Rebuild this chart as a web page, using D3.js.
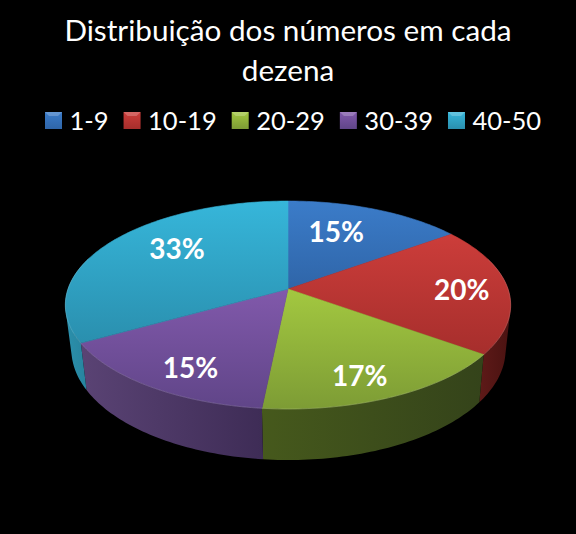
<!DOCTYPE html>
<html lang="pt">
<head>
    <meta charset="UTF-8">
    <title>Distribuição dos números em cada dezena</title>
    <script src="https://d3js.org/d3.v7.min.js"></script>
    <style>
        html, body { margin: 0; padding: 0; background: #000; }
        svg { display: block; }
        text { font-family: Lato, "Open Sans", sans-serif; fill: #fff; }
        .title { font-size: 29.7px; text-anchor: middle; }
        .legend-label { font-size: 25.5px; dominant-baseline: central; }
        .pct { font-size: 28px; font-weight: 700; text-anchor: middle; dominant-baseline: central; }
    </style>
</head>
<body>
<svg width="576" height="534"></svg>
<script>
const titleLines = ["Distribuição dos números em cada", "dezena"];
const categories = ["1-9", "10-19", "20-29", "30-39", "40-50"];
const values = [15, 20, 16.6, 15.2, 33.2];

// top colour, bottom colour of each slice face
const faceTop = ["#3b7cc9", "#cc3d3a", "#a3c840", "#8159ab", "#36b6da"];
const faceBottom = ["#2f65a8", "#a62e2c", "#7d9c35", "#604588", "#2a8fae"];
// left colour, right colour of each side wall
const wallLeft = ["#1d3f69", "#5e1a18", "#46591c", "#5a4374", "#2b90ac"];
const wallRight = ["#1d3f69", "#4a1211", "#34431a", "#3e2c56", "#26809a"];

// radius factor and angle shift (degrees) of each percent label
const labelRadius = [0.67, 0.79, 0.80, 0.79, 0.69];
const labelShift = [-6, 0, 3, -3, 8.5];

const svg = d3.select("svg");
const defs = svg.append("defs");

// Pie seen in perspective: k squeezes the far side, the near side gets bigger
const k = 0.154;
const top3d = {cx: 288, cy: 289, rx: 220, ry: 101.5};
const bottom3d = {cx: 288.5, cy: 332.7, rx: 214.5, ry: 107.7};

function project(face, angle, r = 1) {
    const u = r * Math.sin(angle);
    const v = -r * Math.cos(angle);
    const w = 1 - k * v;
    return [face.cx + face.rx * u / w, face.cy + face.ry * v / w];
}

function arcPoints(face, a0, a1) {
    const n = Math.max(2, Math.ceil((a1 - a0) / 0.02));
    return d3.range(n + 1).map(i => project(face, a0 + (a1 - a0) * i / n));
}

function gradient(id, horizontal, c0, c1) {
    const g = defs.append("linearGradient").attr("id", id)
        .attr("x1", 0).attr("y1", 0)
        .attr("x2", horizontal ? 1 : 0).attr("y2", horizontal ? 0 : 1);
    g.append("stop").attr("offset", "0%").attr("stop-color", c0);
    g.append("stop").attr("offset", "100%").attr("stop-color", c1);
}

categories.forEach((c, i) => {
    gradient("face" + i, false, faceTop[i], faceBottom[i]);
    gradient("wall" + i, true, wallLeft[i], wallRight[i]);
});

const pie = d3.pie().sort(null).value(d => d);
const slices = pie(values);
const line = d3.line();
const pct = d3.format(".0f");

// Title
svg.selectAll(".title")
    .data(titleLines)
  .enter().append("text")
    .attr("class", "title")
    .attr("x", 288)
    .attr("y", (d, i) => 41 + i * 40)
    .text(d => d);

// Legend
const legend = svg.selectAll(".legend")
    .data(categories)
  .enter().append("g")
    .attr("class", "legend");

legend.append("rect")
    .attr("width", 17)
    .attr("height", 17)
    .attr("y", 112)
    .attr("fill", (d, i) => "url(#face" + i + ")");

legend.append("path")
    .attr("d", "M0,112h17l-4,4h-9z")
    .attr("fill", "#fff")
    .attr("opacity", 0.22);

legend.append("text")
    .attr("class", "legend-label")
    .attr("x", 24.5)
    .attr("y", 120)
    .text(d => d);

let legendX = 45;
legend.each(function() {
    d3.select(this).attr("transform", "translate(" + legendX + ",0)");
    legendX += 24.5 + d3.select(this).select("text").node().getComputedTextLength() + 15;
});

// Side walls, only the part turned to the viewer.
// Built from small quads so the silhouette follows the tangent at left and right
const wallFrom = Math.PI * 0.4;
const wallTo = Math.PI * 1.6;
svg.selectAll(".wall")
    .data(slices.filter(d => d.endAngle > wallFrom && d.startAngle < wallTo))
  .enter().append("path")
    .attr("class", "wall")
    .attr("fill", d => "url(#wall" + d.index + ")")
    .attr("d", d => {
        const a0 = Math.max(d.startAngle, wallFrom);
        const a1 = Math.min(d.endAngle, wallTo);
        const upper = arcPoints(top3d, a0, a1);
        const lower = arcPoints(bottom3d, a0, a1);
        return d3.range(upper.length - 1).map(i =>
            line(d3.polygonHull([upper[i], upper[i + 1], lower[i + 1], lower[i]])) + "Z"
        ).join("");
    });

// Top faces
svg.selectAll(".slice")
    .data(slices)
  .enter().append("path")
    .attr("class", "slice")
    .attr("fill", d => "url(#face" + d.index + ")")
    .attr("stroke", d => "url(#face" + d.index + ")")
    .attr("stroke-width", 0.6)
    .attr("d", d => line([[top3d.cx, top3d.cy]].concat(arcPoints(top3d, d.startAngle, d.endAngle))) + "Z");

// Light rim on the front edge
svg.selectAll(".rim")
    .data(slices)
  .enter().append("path")
    .attr("class", "rim")
    .attr("fill", "none")
    .attr("stroke", "#fff")
    .attr("stroke-opacity", 0.14)
    .attr("stroke-width", 1)
    .attr("d", d => {
        const a0 = Math.max(d.startAngle, wallFrom);
        const a1 = Math.min(d.endAngle, wallTo);
        return a1 > a0 ? line(arcPoints(top3d, a0, a1)) : null;
    });

// Percent labels
svg.selectAll(".pct")
    .data(slices)
  .enter().append("text")
    .attr("class", "pct")
    .attr("transform", (d, i) => {
        const mid = (d.startAngle + d.endAngle) / 2 + labelShift[i] * Math.PI / 180;
        return "translate(" + project(top3d, mid, labelRadius[i]) + ")";
    })
    .text(d => pct(d.data) + "%");
</script>
</body>
</html>
